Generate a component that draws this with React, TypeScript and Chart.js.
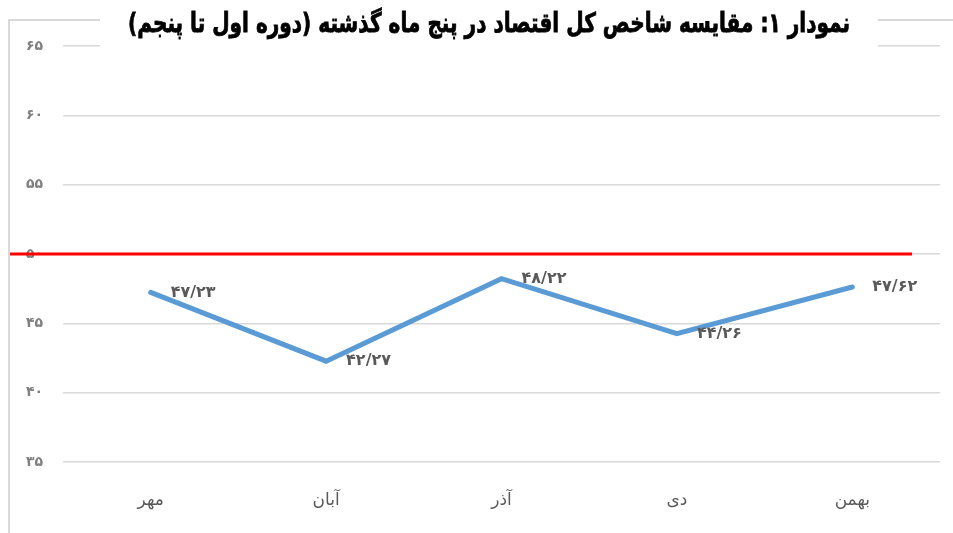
import React, { useEffect, useRef } from "react";
import { Chart, registerables } from "chart.js";

Chart.register(...registerables);

const titleText = "نمودار ۱: مقایسه شاخص کل اقتصاد در پنج ماه گذشته (دوره اول تا پنجم)";
const categories = ["مهر", "آبان", "آذر", "دی", "بهمن"];
const values = [47.23, 42.27, 48.22, 44.26, 47.62];
const valueLabels = ["۴۷/۲۳", "۴۲/۲۷", "۴۸/۲۲", "۴۴/۲۶", "۴۷/۶۲"];
const yTickLabels: Record<number, string> = { 35: "۳۵", 40: "۴۰", 45: "۴۵", 50: "۵۰", 55: "۵۵", 60: "۶۰", 65: "۶۵" };
const thresholdValue = 50;

const FONT = "'DejaVu Sans', 'Noto Sans', sans-serif";

export default function App() {
  const ref = useRef<HTMLCanvasElement | null>(null);
  useEffect(() => {
    document.body.style.margin = "0";
    const canvas = ref.current!;
    const framePlugin = {
      id: "frame",
      beforeDraw(chart: any) {
        const ctx = chart.ctx;
        ctx.save();
        ctx.fillStyle = "#ffffff";
        ctx.fillRect(0, 0, chart.width, chart.height);
        ctx.strokeStyle = "#d9d9d9";
        ctx.lineWidth = 2;
        ctx.beginPath();
        ctx.moveTo(9, chart.height);
        ctx.lineTo(9, 20);
        ctx.lineTo(chart.width, 20);
        ctx.stroke();
        ctx.restore();
      },
      afterDraw(chart: any) {
        const ctx = chart.ctx;
        const y = chart.scales.y.getPixelForValue(thresholdValue);
        ctx.save();
        ctx.strokeStyle = "#ff0000";
        ctx.lineWidth = 3;
        ctx.beginPath();
        ctx.moveTo(10, y);
        ctx.lineTo(chart.chartArea.right - 28, y);
        ctx.stroke();
        // value labels
        const meta = chart.getDatasetMeta(0);
        ctx.fillStyle = "#595959";
        ctx.font = `bold 16px ${FONT}`;
        ctx.textAlign = "left";
        ctx.textBaseline = "middle";
        meta.data.forEach((pt: any, i: number) => {
          ctx.fillText(valueLabels[i], pt.x + 20, pt.y);
        });
        // title
        ctx.font = `bold 27px ${FONT}`;
        const w = ctx.measureText(titleText).width;
        const sx = 722 / w;
        const cx = 489;
        const half = (w * sx) / 2;
        ctx.fillStyle = "#ffffff";
        ctx.fillRect(cx - half - 28, 8, 2 * half + 56, 41);
        ctx.fillStyle = "#000000";
        ctx.strokeStyle = "#000000";
        ctx.lineWidth = 0.8;
        ctx.textAlign = "center";
        ctx.textBaseline = "middle";
        ctx.translate(cx, 25);
        ctx.scale(sx, 1);
        ctx.fillText(titleText, 0, 0);
        ctx.strokeText(titleText, 0, 0);
        ctx.restore();
      },
    };
    const chart = new Chart(canvas, {
      type: "line",
      data: {
        labels: categories,
        datasets: [
          {
            data: values,
            borderColor: "#5B9BD5",
            borderWidth: 5,
            pointRadius: 0,
            tension: 0,
            borderCapStyle: "round",
            borderJoinStyle: "miter",
          },
        ],
      },
      options: {
        responsive: true,
        maintainAspectRatio: false,
        animation: false,
        layout: { padding: { left: 0, right: 13, top: 46, bottom: 0 } },
        plugins: {
          legend: { display: false },
          tooltip: { enabled: false },
          title: { display: false },
        },
        scales: {
          x: {
            offset: true,
            grid: { display: false, drawTicks: false },
            border: { display: false },
            ticks: { color: "#595959", font: { family: FONT, size: 17 }, padding: 28 },
            afterFit(scale: any) {
              scale.height = 71;
            },
          },
          y: {
            min: 35,
            max: 65,
            grid: { color: "#d9d9d9", lineWidth: 1.5, drawTicks: false },
            border: { display: false },
            ticks: {
              stepSize: 5,
              color: "#808080",
              font: { family: FONT, size: 14, weight: "bold" },
              padding: 20,
              callback: (v: any) => yTickLabels[v as number] ?? String(v),
            },
            afterFit(scale: any) {
              scale.width = 63;
            },
          },
        },
      },
      plugins: [framePlugin],
    });
    return () => chart.destroy();
  }, []);
  return (
    <div style={{ position: "fixed", left: 0, top: 0, width: 953, height: 533 }}>
      <canvas ref={ref} />
    </div>
  );
}
